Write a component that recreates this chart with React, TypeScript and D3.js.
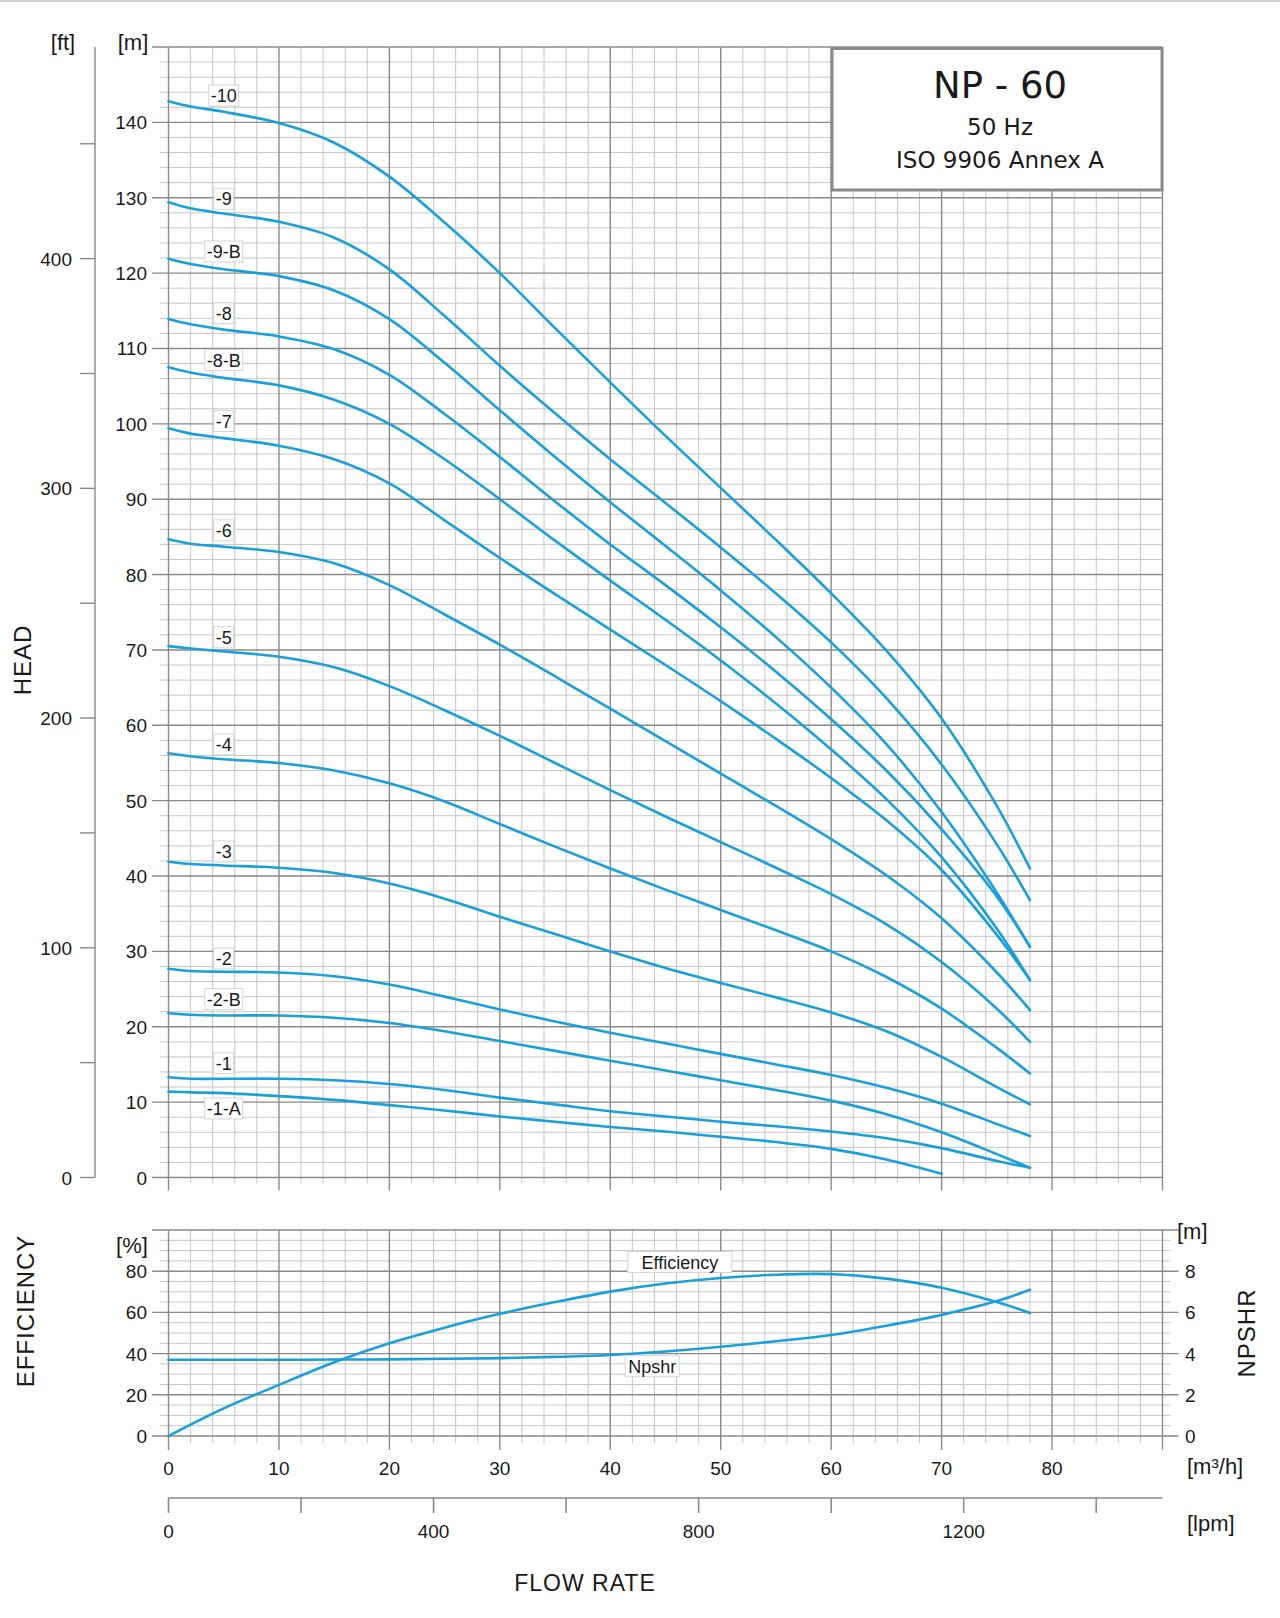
import * as d3 from 'd3'

// flow rate points [m3/h] used for the head curves
const FLOW = [0, 2, 5, 10, 15, 20, 25, 30, 35, 40, 45, 50, 55, 60, 65, 70, 75, 78]

// head [m] per pump model, read at FLOW points
const H_10 = [142.8, 142.1, 141.4, 139.9, 137.3, 132.8, 126.7, 120.0, 112.7, 105.5, 98.4, 91.5, 84.6, 77.5, 69.9, 60.9, 49.3, 41.0]
const H_9 = [129.4, 128.6, 127.9, 126.8, 124.7, 120.5, 114.3, 107.7, 101.4, 95.3, 89.5, 83.6, 77.5, 71.0, 63.6, 54.8, 44.2, 36.8]
const H_9B = [121.9, 121.2, 120.5, 119.6, 117.7, 113.9, 108.1, 101.8, 95.6, 89.6, 83.8, 77.9, 71.7, 65.0, 57.5, 48.5, 37.8, 30.6]
const H_8 = [113.9, 113.2, 112.5, 111.6, 109.9, 106.5, 101.3, 95.6, 89.7, 84.0, 78.6, 73.0, 67.1, 60.8, 54.0, 46.2, 37.3, 30.6]
const H_8B = [107.5, 106.8, 106.1, 105.1, 103.2, 100.0, 95.3, 90.0, 84.5, 79.2, 74.0, 68.6, 62.9, 56.8, 50.2, 42.5, 33.0, 26.2]
const H_7 = [99.4, 98.7, 98.1, 97.1, 95.3, 92.1, 87.2, 82.2, 77.4, 72.7, 68.0, 63.2, 58.2, 53.0, 47.4, 40.8, 32.2, 26.2]
const H_6 = [84.7, 84.1, 83.7, 83.0, 81.5, 78.6, 74.7, 70.7, 66.5, 62.2, 57.9, 53.6, 49.3, 44.9, 40.1, 34.4, 27.2, 22.2]
const H_5 = [70.5, 70.2, 69.8, 69.1, 67.7, 65.2, 62.0, 58.6, 55.0, 51.4, 47.9, 44.5, 41.1, 37.6, 33.6, 28.6, 22.4, 18.0]
const H_4 = [56.3, 55.9, 55.5, 55.0, 54.0, 52.3, 49.9, 46.9, 43.9, 41.0, 38.2, 35.5, 32.8, 30.0, 26.6, 22.4, 17.2, 13.8]
const H_3 = [41.9, 41.6, 41.4, 41.1, 40.4, 39.0, 37.0, 34.6, 32.3, 30.0, 27.8, 25.8, 23.9, 21.9, 19.4, 16.0, 12.0, 9.7]
const H_2 = [27.7, 27.4, 27.3, 27.2, 26.7, 25.6, 24.0, 22.3, 20.7, 19.2, 17.8, 16.4, 15.0, 13.6, 11.9, 9.8, 7.1, 5.5]
const H_2B = [21.8, 21.6, 21.5, 21.5, 21.2, 20.5, 19.4, 18.1, 16.8, 15.5, 14.2, 12.9, 11.6, 10.2, 8.4, 6.0, 3.1, 1.3]
const H_1 = [13.3, 13.1, 13.1, 13.1, 12.9, 12.4, 11.6, 10.6, 9.7, 8.8, 8.1, 7.4, 6.8, 6.1, 5.2, 3.9, 2.2, 1.3]
const H_1A = [11.4, 11.3, 11.2, 10.8, 10.3, 9.6, 8.9, 8.1, 7.4, 6.7, 6.1, 5.4, 4.7, 3.8, 2.4, 0.5]

const MODELS = ['-10', '-9', '-9-B', '-8', '-8-B', '-7', '-6', '-5', '-4', '-3', '-2', '-2-B', '-1', '-1-A']
const HEADS = [H_10, H_9, H_9B, H_8, H_8B, H_7, H_6, H_5, H_4, H_3, H_2, H_2B, H_1, H_1A]
// label anchor heads [m] at flow 5
const LABEL_FLOW = 5
const LABEL_HEAD = [143.5, 129.8, 122.8, 114.6, 108.4, 100.3, 85.8, 71.6, 57.4, 43.2, 29.0, 23.6, 15.1, 9.1]

// efficiency [%] / npshr [m]
const FLOW_EFF = [0, 5, 10, 15, 20, 25, 30, 35, 40, 45, 50, 55, 60, 65, 70, 75, 78]
const EFFICIENCY = [0, 13.4, 24.8, 35.8, 45.0, 52.6, 59.3, 65.0, 70.1, 74.0, 76.7, 78.3, 78.6, 76.4, 72.0, 65.0, 59.7]
const NPSHR = [3.7, 3.7, 3.7, 3.71, 3.72, 3.75, 3.78, 3.84, 3.93, 4.1, 4.33, 4.6, 4.9, 5.35, 5.88, 6.55, 7.1]

const HEAD_TICKS = [0, 10, 20, 30, 40, 50, 60, 70, 80, 90, 100, 110, 120, 130, 140]
const FT_TICKS = [0, 100, 200, 300, 400]
const EFF_TICKS = [0, 20, 40, 60, 80]
const NPSH_TICKS = [0, 2, 4, 6, 8]
const FLOW_TICKS = [0, 10, 20, 30, 40, 50, 60, 70, 80]
const LPM_TICKS = [0, 400, 800, 1200]

const SANS = '"Liberation Sans", Arial, Helvetica, sans-serif'
const BLUE = '#1b9fdb'
const MAJOR = '#8a8a8a'
const MINOR = '#c6c6c6'
const INK = '#1a1a1a'

function labelWidth(s: string) {
  let w = 0
  for (const c of s) w += c === '-' ? 6 : c === 'A' || c === 'B' ? 12 : 10
  return w
}

function Tag({ x, y, text, size = 18 }: { x: number; y: number; text: string; size?: number }) {
  const w = labelWidth(text) * (size / 18) + 4
  return (
    <g>
      <rect x={x - w / 2} y={y - 11} width={w} height={21} fill="#fff" stroke="#d4d4d4" strokeWidth={1} />
      <text x={x} y={y + 6} textAnchor="middle" fontSize={size} fill={INK}>{text}</text>
    </g>
  )
}

export default function App() {
  const W = 1280
  const H = 1618

  const x = d3.scaleLinear().domain([0, 90]).range([168.5, 1162.5])
  const yHead = d3.scaleLinear().domain([0, 150]).range([1177.5, 47])
  const yFt = d3.scaleLinear().domain([0, 150 / 0.3048]).range([1177.5, 47])
  const yEff = d3.scaleLinear().domain([0, 100]).range([1436, 1230])
  const yNpsh = d3.scaleLinear().domain([0, 10]).range([1436, 1230])
  const xLpm = d3.scaleLinear().domain([0, 1500]).range([168.5, 1162.5])

  const smooth = d3.curveCatmullRom.alpha(0.5)
  const headLine = d3.line<[number, number]>()
    .x(d => x(d[0])).y(d => yHead(d[1])).curve(smooth)
  const effLine = d3.line<[number, number]>()
    .x(d => x(d[0])).y(d => yEff(d[1])).curve(smooth)
  const npshLine = d3.line<[number, number]>()
    .x(d => x(d[0])).y(d => yNpsh(d[1])).curve(smooth)

  const flowGrid = d3.range(0, 91, 2)
  const headGrid = d3.range(0, 151, 2)
  const effGrid = d3.range(0, 101, 5)
  const ftTicks = d3.range(0, 451, 50)
  const lpmTicks = d3.range(0, 1501, 200)

  const [x0, x1] = x.range()
  const top = yHead(150), bot = yHead(0)
  const eTop = yEff(100), eBot = yEff(0)

  return (
    <svg width={W} height={H} viewBox={`0 0 ${W} ${H}`}
      style={{ position: 'absolute', left: 0, top: 0, background: '#fff' }}
      fontFamily={SANS}>
      <rect width={W} height={H} fill="#fff" />
      <line x1={0} x2={W} y1={1} y2={1} stroke="#cfcfcf" strokeWidth={2} />

      {/* upper grid: minor then major */}
      <g>
        {headGrid.filter(h => h % 10 !== 0).map(h => (
          <line key={'hm' + h} x1={160} x2={x1} y1={yHead(h)} y2={yHead(h)} stroke={MINOR} strokeWidth={1} />
        ))}
        {flowGrid.filter(q => q % 10 !== 0).map(q => (
          <line key={'vm' + q} x1={x(q)} x2={x(q)} y1={top} y2={bot + 6} stroke={MINOR} strokeWidth={1} />
        ))}
        {headGrid.filter(h => h % 10 === 0).map(h => (
          <line key={'hM' + h} x1={152} x2={x1} y1={yHead(h)} y2={yHead(h)} stroke={MAJOR} strokeWidth={1.4} />
        ))}
        {flowGrid.filter(q => q % 10 === 0).map(q => (
          <line key={'vM' + q} x1={x(q)} x2={x(q)} y1={top} y2={bot + 13} stroke={MAJOR} strokeWidth={1.4} />
        ))}
      </g>

      {/* lower grid */}
      <g>
        {effGrid.filter(p => p % 20 !== 0).map(p => (
          <line key={'em' + p} x1={160} x2={x1 + 8} y1={yEff(p)} y2={yEff(p)} stroke={MINOR} strokeWidth={1} />
        ))}
        {flowGrid.filter(q => q % 10 !== 0).map(q => (
          <line key={'evm' + q} x1={x(q)} x2={x(q)} y1={eTop} y2={eBot + 7} stroke={MINOR} strokeWidth={1} />
        ))}
        {effGrid.filter(p => p % 20 === 0).map(p => (
          <line key={'eM' + p} x1={152} x2={x1 + 16} y1={yEff(p)} y2={yEff(p)} stroke={MAJOR} strokeWidth={1.4} />
        ))}
        {flowGrid.filter(q => q % 10 === 0).map(q => (
          <line key={'evM' + q} x1={x(q)} x2={x(q)} y1={eTop} y2={eBot + 14} stroke={MAJOR} strokeWidth={1.4} />
        ))}
      </g>

      {/* head curves */}
      <g fill="none" stroke={BLUE} strokeWidth={2.6} strokeLinecap="round">
        {HEADS.map((hs, i) => (
          <path key={MODELS[i]} d={headLine(hs.map((h, j) => [FLOW[j], h] as [number, number])) || ''} />
        ))}
      </g>
      {MODELS.map((m, i) => (
        <Tag key={'t' + m} x={x(LABEL_FLOW)} y={yHead(LABEL_HEAD[i])} text={m} />
      ))}

      {/* efficiency & npshr */}
      <g fill="none" stroke={BLUE} strokeWidth={2.6} strokeLinecap="round">
        <path d={effLine(EFFICIENCY.map((v, j) => [FLOW_EFF[j], v] as [number, number])) || ''} />
        <path d={npshLine(NPSHR.map((v, j) => [FLOW_EFF[j], v] as [number, number])) || ''} />
      </g>
      <Tag x={x(46.3)} y={yEff(84.2)} text="Efficiency" size={18} />
      <Tag x={x(43.8)} y={yEff(33.6)} text="Npshr" size={18} />

      {/* title box */}
      <g fontFamily='"DejaVu Sans", sans-serif' fill={INK} textAnchor="middle">
        <rect x={832} y={48.5} width={330} height={141.5} fill="#fff" stroke={MAJOR} strokeWidth={3} />
        <text x={1000} y={98} fontSize={37}>NP - 60</text>
        <text x={1000} y={135} fontSize={23}>50 Hz</text>
        <text x={1000} y={168} fontSize={23}>ISO 9906 Annex A</text>
      </g>

      {/* head axis labels [m] */}
      <g fontSize={19} fill={INK} textAnchor="end">
        {HEAD_TICKS.map(h => (
          <text key={'hl' + h} x={147} y={yHead(h) + 7}>{h}</text>
        ))}
      </g>
      <text x={133} y={50} fontSize={22} textAnchor="middle" fill={INK}>[m]</text>

      {/* ft axis */}
      <line x1={95} x2={95} y1={top} y2={bot} stroke={MAJOR} strokeWidth={1.4} />
      {ftTicks.map(f => (
        <line key={'ft' + f} x1={80} x2={95} y1={yFt(f)} y2={yFt(f)} stroke={MAJOR} strokeWidth={1.4} />
      ))}
      <g fontSize={19} fill={INK} textAnchor="end">
        {FT_TICKS.map(f => (
          <text key={'fl' + f} x={72} y={yFt(f) + 7}>{f}</text>
        ))}
      </g>
      <text x={63} y={50} fontSize={22} textAnchor="middle" fill={INK}>[ft]</text>
      <text transform="translate(31,660) rotate(-90)" fontSize={24} letterSpacing={1}
        textAnchor="middle" fill={INK}>HEAD</text>

      {/* efficiency axis */}
      <g fontSize={19} fill={INK} textAnchor="end">
        {EFF_TICKS.map(p => (
          <text key={'pl' + p} x={147} y={yEff(p) + 7}>{p}</text>
        ))}
      </g>
      <text x={132} y={1253} fontSize={22} textAnchor="middle" fill={INK}>[%]</text>
      <text transform="translate(34,1311) rotate(-90)" fontSize={24} letterSpacing={1}
        textAnchor="middle" fill={INK}>EFFICIENCY</text>

      {/* npsh axis */}
      <g fontSize={19} fill={INK} textAnchor="start">
        {NPSH_TICKS.map(n => (
          <text key={'nl' + n} x={1185} y={yNpsh(n) + 7}>{n}</text>
        ))}
      </g>
      <text x={1177} y={1239} fontSize={22} fill={INK}>[m]</text>
      <text transform="translate(1255,1333) rotate(-90)" fontSize={24} letterSpacing={1}
        textAnchor="middle" fill={INK}>NPSHR</text>

      {/* flow axis m3/h */}
      <g fontSize={19} fill={INK} textAnchor="middle">
        {FLOW_TICKS.map(q => (
          <text key={'ql' + q} x={x(q)} y={1475}>{q}</text>
        ))}
      </g>
      <text x={1187} y={1474} fontSize={22} fill={INK}>[m³/h]</text>

      {/* flow axis lpm */}
      <line x1={x0} x2={x1} y1={1498} y2={1498} stroke={MAJOR} strokeWidth={1.6} />
      {lpmTicks.map(l => (
        <line key={'lt' + l} x1={xLpm(l)} x2={xLpm(l)} y1={1498} y2={1513} stroke={MAJOR} strokeWidth={1.6} />
      ))}
      <g fontSize={19} fill={INK} textAnchor="middle">
        {LPM_TICKS.map(l => (
          <text key={'ll' + l} x={xLpm(l)} y={1538}>{l}</text>
        ))}
      </g>
      <text x={1187} y={1531} fontSize={22} fill={INK}>[lpm]</text>

      <text x={585} y={1591} fontSize={23} letterSpacing={1} textAnchor="middle" fill={INK}>FLOW RATE</text>
    </svg>
  )
}
